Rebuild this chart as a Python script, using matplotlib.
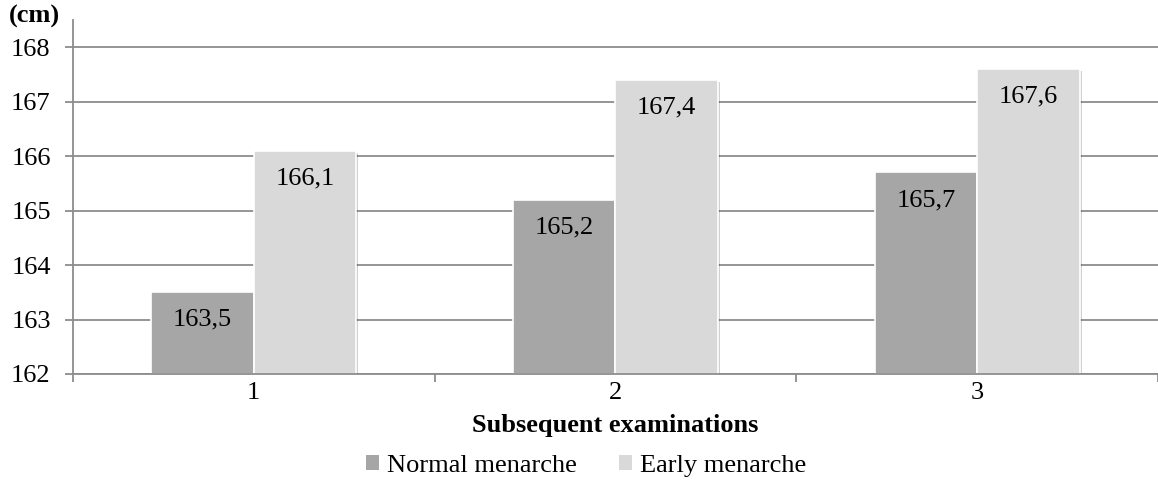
import matplotlib
matplotlib.use("Agg")
import matplotlib.pyplot as plt
import matplotlib.patheffects as pe
from matplotlib.patches import Patch
import numpy as np

plt.rcParams["font.family"] = ["Liberation Serif", "DejaVu Serif"]

# mean body height (cm) at each examination
examinations = ["1", "2", "3"]
normal_menarche = [163.5, 165.2, 165.7]
early_menarche = [166.1, 167.4, 167.6]
series_names = ["Normal menarche", "Early menarche"]
series_colors = ["#A6A6A6", "#D9D9D9"]
y_ticks = [162, 163, 164, 165, 166, 167, 168]

GRID = "#8C8C8C"
FS = 19

fig = plt.figure(figsize=(11.58, 4.86), dpi=100)
ax = fig.add_axes([0.063, 0.2305, 0.937, 0.7285])

x = np.arange(len(examinations))
width = 0.283
shadow = [pe.SimplePatchShadow(offset=(1.5, -1.5), alpha=0.18, shadow_rgbFace="#000000"), pe.Normal()]

for values, offset, name, color in zip(
    [normal_menarche, early_menarche], [-width / 2, width / 2], series_names, series_colors
):
    bars = ax.bar(
        x + offset,
        np.array(values) - y_ticks[0],
        width=width,
        bottom=y_ticks[0],
        color=color,
        edgecolor="white",
        linewidth=1.2,
        zorder=3,
    )
    for b in bars:
        b.set_path_effects(shadow)
    for xi, v in zip(x + offset, values):
        ax.annotate(
            f"{v:.1f}".replace(".", ","),
            xy=(xi, v),
            xytext=(0, -12),
            textcoords="offset points",
            ha="center",
            va="top",
            fontsize=FS,
            color="black",
            zorder=4,
        )

ax.set_xlim(-0.5, len(examinations) - 0.5)
ax.set_ylim(162, 168.5)
ax.set_yticks(y_ticks)
ax.set_yticklabels([str(t) for t in y_ticks])
ax.set_xticks(x)
ax.set_xticklabels(examinations)
ax.set_xticks(np.arange(-0.5, len(examinations)), minor=True)

for t in y_ticks:
    ax.axhline(t, color=GRID, lw=1.3, zorder=1)

for side in ["top", "right"]:
    ax.spines[side].set_visible(False)
ax.spines["left"].set_color(GRID)
ax.spines["left"].set_linewidth(1.3)
ax.spines["bottom"].set_color(GRID)
ax.spines["bottom"].set_linewidth(1.3)
ax.spines["bottom"].set_zorder(5)

ax.tick_params(axis="y", which="major", length=6, width=1.3, color=GRID, labelsize=FS, pad=10)
ax.tick_params(axis="x", which="major", length=0, labelsize=FS, pad=6)
ax.tick_params(axis="x", which="minor", length=6, width=1.3, color=GRID)

ax.set_xlabel("Subsequent examinations", fontsize=FS, fontweight="bold", labelpad=7)
fig.text(0.008, 0.99, "(cm)", fontsize=FS, fontweight="bold", ha="left", va="top")

handles = [Patch(facecolor=c, edgecolor="none", label=n) for c, n in zip(series_colors, series_names)]
ax.legend(
    handles=handles,
    loc="center",
    bbox_to_anchor=(0.473, -0.26),
    ncol=2,
    frameon=False,
    fontsize=FS,
    handlelength=0.5,
    handleheight=0.5,
    handletextpad=0.3,
    columnspacing=1.6,
)

fig.savefig("out.png", dpi=100)
